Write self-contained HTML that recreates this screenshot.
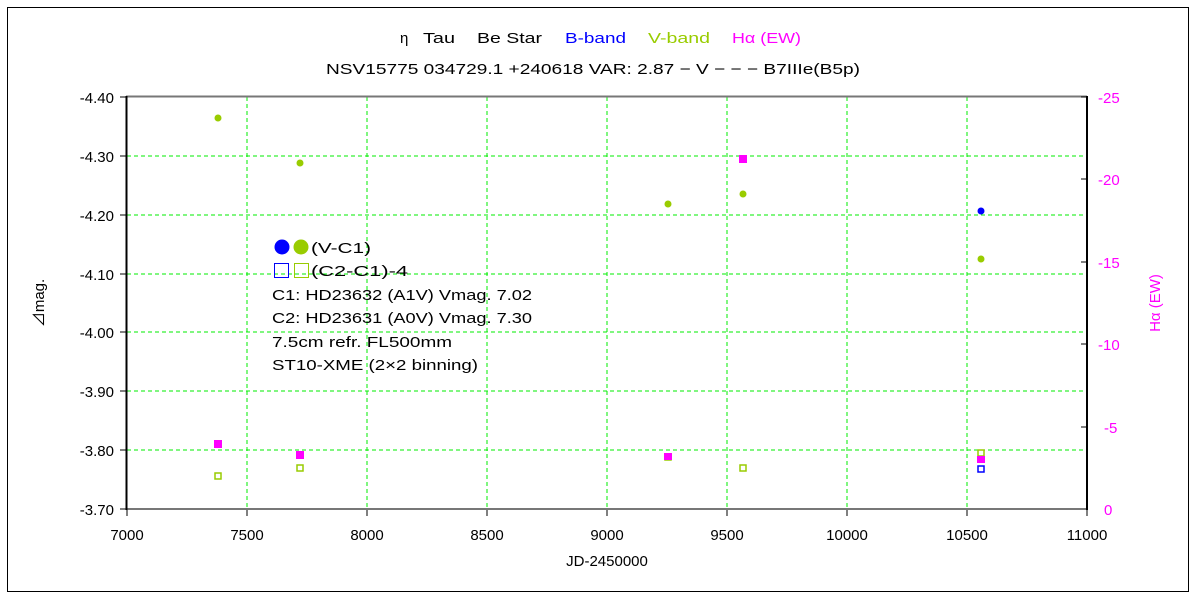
<!DOCTYPE html>
<html><head><style>body{margin:0;background:#fff}svg{display:block}text{font-family:"Liberation Sans","Noto Sans CJK JP",sans-serif;font-size:15px}</style></head>
<body>
<svg width="1200" height="600" xmlns="http://www.w3.org/2000/svg">
<rect x="0" y="0" width="1200" height="600" fill="#fff"/>
<rect x="7.5" y="7.5" width="1181" height="584" fill="none" stroke="#000" stroke-width="1"/>
<g stroke="#00ee00" stroke-dasharray="4,3" stroke-width="1">
<line x1="247" y1="97" x2="247" y2="509"/><line x1="367" y1="97" x2="367" y2="509"/><line x1="487" y1="97" x2="487" y2="509"/><line x1="607" y1="97" x2="607" y2="509"/><line x1="727" y1="97" x2="727" y2="509"/><line x1="847" y1="97" x2="847" y2="509"/><line x1="967" y1="97" x2="967" y2="509"/>
<line x1="127" y1="156" x2="1087" y2="156"/><line x1="127" y1="215" x2="1087" y2="215"/><line x1="127" y1="274" x2="1087" y2="274"/><line x1="127" y1="332" x2="1087" y2="332"/><line x1="127" y1="391" x2="1087" y2="391"/><line x1="127" y1="450" x2="1087" y2="450"/>
</g>
<line x1="126" y1="96.5" x2="1087" y2="96.5" stroke="#777" stroke-width="2"/>
<line x1="126" y1="509" x2="1087" y2="509" stroke="#777" stroke-width="2"/>
<line x1="126.5" y1="96" x2="126.5" y2="510" stroke="#000" stroke-width="2"/>
<line x1="1087" y1="96" x2="1087" y2="510" stroke="#000" stroke-width="2"/>
<g stroke="#000" stroke-width="1">
<line x1="127" y1="510" x2="127" y2="516"/><line x1="247" y1="510" x2="247" y2="516"/><line x1="367" y1="510" x2="367" y2="516"/><line x1="487" y1="510" x2="487" y2="516"/><line x1="607" y1="510" x2="607" y2="516"/><line x1="727" y1="510" x2="727" y2="516"/><line x1="847" y1="510" x2="847" y2="516"/><line x1="967" y1="510" x2="967" y2="516"/><line x1="1087" y1="510" x2="1087" y2="516"/>
<line x1="120" y1="97" x2="127" y2="97"/><line x1="120" y1="156" x2="127" y2="156"/><line x1="120" y1="215" x2="127" y2="215"/><line x1="120" y1="274" x2="127" y2="274"/><line x1="120" y1="332" x2="127" y2="332"/><line x1="120" y1="391" x2="127" y2="391"/><line x1="120" y1="450" x2="127" y2="450"/><line x1="120" y1="509" x2="127" y2="509"/>
<line x1="1081" y1="97" x2="1087" y2="97"/><line x1="1081" y1="179" x2="1087" y2="179"/><line x1="1081" y1="262" x2="1087" y2="262"/><line x1="1081" y1="344" x2="1087" y2="344"/><line x1="1081" y1="427" x2="1087" y2="427"/>
</g>
<g text-anchor="end" fill="#000">
<text x="114" y="103">-4.40</text><text x="114" y="162">-4.30</text><text x="114" y="221">-4.20</text><text x="114" y="280">-4.10</text><text x="114" y="338">-4.00</text><text x="114" y="397">-3.90</text><text x="114" y="456">-3.80</text><text x="114" y="515">-3.70</text>
</g>
<g text-anchor="middle" fill="#000">
<text x="127" y="540">7000</text><text x="247" y="540">7500</text><text x="367" y="540">8000</text><text x="487" y="540">8500</text><text x="607" y="540">9000</text><text x="727" y="540">9500</text><text x="847" y="540">10000</text><text x="967" y="540">10500</text><text x="1087" y="540">11000</text>
<text x="607" y="566">JD-2450000</text>
</g>
<g fill="#ff00ff">
<text x="1098" y="103">-25</text><text x="1098" y="185">-20</text><text x="1098" y="268">-15</text><text x="1098" y="350">-10</text><text x="1104" y="433">-5</text><text x="1104" y="515">0</text>
<text transform="translate(1160,303) rotate(-90)" text-anchor="middle">Hα (EW)</text>
</g>
<text transform="translate(44,303) rotate(-90)" text-anchor="middle" font-size="14">⊿mag.</text>
<text x="400" y="43">η</text>
<text x="423" y="43" textLength="32" lengthAdjust="spacingAndGlyphs">Tau</text>
<text x="477" y="43" textLength="65" lengthAdjust="spacingAndGlyphs">Be Star</text>
<text x="565" y="43" fill="#0000ff" textLength="61" lengthAdjust="spacingAndGlyphs">B-band</text>
<text x="648" y="43" fill="#99cc00" textLength="62" lengthAdjust="spacingAndGlyphs">V-band</text>
<text x="732" y="43" fill="#ff00ff" textLength="69" lengthAdjust="spacingAndGlyphs">Hα (EW)</text>
<text x="326" y="74" textLength="534" lengthAdjust="spacingAndGlyphs">NSV15775 034729.1  +240618  VAR: 2.87 − V − − − B7IIIe(B5p)</text>
<g fill="#99cc00">
<circle cx="218" cy="118" r="3.5"/><circle cx="300" cy="163" r="3.5"/><circle cx="668" cy="204" r="3.5"/><circle cx="743" cy="194" r="3.5"/><circle cx="981" cy="259" r="3.5"/>
</g>
<circle cx="981" cy="211" r="3.5" fill="#0000ff"/>
<g fill="none" stroke="#99cc00" stroke-width="1.5">
<rect x="215" y="473" width="6" height="6"/><rect x="297" y="465" width="6" height="6"/><rect x="665" y="454" width="6" height="6"/><rect x="740" y="465" width="6" height="6"/><rect x="978" y="450" width="6" height="6"/>
</g>
<g fill="#ff00ff">
<rect x="214" y="440" width="8" height="8"/><rect x="296" y="451" width="8" height="8"/><rect x="664" y="453" width="8" height="7"/><rect x="739" y="155" width="8" height="8"/><rect x="977" y="456" width="8" height="7"/>
</g>
<rect x="978" y="466" width="6" height="6" fill="none" stroke="#0000ff" stroke-width="1.5"/>
<circle cx="282" cy="247" r="7.5" fill="#0000ff"/><circle cx="301" cy="247" r="7.5" fill="#99cc00"/>
<rect x="274.5" y="263.5" width="14" height="14" fill="none" stroke="#0000ff"/><rect x="294.5" y="263.5" width="14" height="14" fill="none" stroke="#99cc00"/>
<g fill="#000">
<text x="311" y="253" textLength="60" lengthAdjust="spacingAndGlyphs">(V-C1)</text>
<text x="311" y="276" textLength="97" lengthAdjust="spacingAndGlyphs">(C2-C1)-4</text>
<text x="272" y="300" textLength="260" lengthAdjust="spacingAndGlyphs">C1: HD23632 (A1V) Vmag. 7.02</text>
<text x="272" y="323" textLength="260" lengthAdjust="spacingAndGlyphs">C2: HD23631 (A0V) Vmag. 7.30</text>
<text x="272" y="347" textLength="180" lengthAdjust="spacingAndGlyphs">7.5cm refr. FL500mm</text>
<text x="272" y="370" textLength="206" lengthAdjust="spacingAndGlyphs">ST10-XME (2×2 binning)</text>
</g>
</svg>
</body></html>
